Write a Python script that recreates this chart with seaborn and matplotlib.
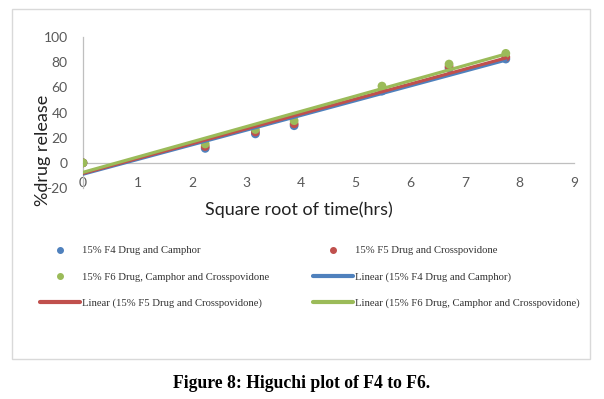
"""
Higuchi plot of F4 to F6 (percent drug release vs square root of time).
"""
import numpy as np
import pandas as pd
import seaborn as sns
import matplotlib.pyplot as plt
from matplotlib.lines import Line2D
from matplotlib.patches import Rectangle

# data
sqrt_time = [0, 2.24, 3.16, 3.87, 5.48, 6.71, 7.75]
f4_release = [0, 11.5, 23, 29.5, 57, 75, 82.5]
f5_release = [0, 13, 24.5, 31, 58, 76.5, 84]
f6_release = [0, 15, 26.5, 33.5, 61, 78.5, 87]

series_names = [
    "15% F4 Drug and Camphor",
    "15% F5 Drug and Crosspovidone",
    "15% F6 Drug, Camphor and Crosspovidone",
]
colors = ["#4F81BD", "#C0504D", "#9BBB59"]
x_ticks = [0, 1, 2, 3, 4, 5, 6, 7, 8, 9]
y_ticks = [-20, 0, 20, 40, 60, 80, 100]

df = pd.concat([
    pd.DataFrame({"x": sqrt_time, "y": vals, "series": name})
    for name, vals in zip(series_names, [f4_release, f5_release, f6_release])
], ignore_index=True)

sns.set_theme(style="white")
plt.rcParams["font.family"] = ["Lato", "DejaVu Sans"]

fig = plt.figure(figsize=(6.04, 3.99), dpi=100)
ax = fig.add_axes([83 / 604, 1 - 188 / 399, (574 - 83) / 604, (188 - 37) / 399])

sns.scatterplot(data=df, x="x", y="y", hue="series", palette=colors,
                s=40, linewidth=0, legend=False, ax=ax, zorder=3)
for name, c in zip(series_names, colors):
    sns.regplot(data=df[df.series == name], x="x", y="y", scatter=False, ci=None,
                truncate=True, color=c, line_kws={"lw": 2.3, "zorder": 4}, ax=ax)

ax.set_xlim(0, 9)
ax.set_ylim(-20, 100)
ax.set_xticks(x_ticks)
ax.set_yticks(y_ticks)
ax.set_yticklabels([str(v) for v in y_ticks])
ax.tick_params(axis="both", length=0, labelsize=10, colors="#595959")
ax.tick_params(axis="x", pad=10)
ax.tick_params(axis="y", pad=11)

for side in ["top", "right"]:
    ax.spines[side].set_visible(False)
ax.spines["bottom"].set_position(("data", 0))
for side in ["left", "bottom"]:
    ax.spines[side].set_color("#BFBFBF")
    ax.spines[side].set_linewidth(0.9)

ax.set_xlabel("")
ax.set_ylabel("")
fig.text(299 / 604, 1 - 210 / 399, "Square root of time(hrs)", ha="center", va="center",
         fontsize=13, color="#222222")
fig.text(43 / 604, 1 - 150 / 399, "%drug release", ha="center", va="center",
         rotation=90, fontsize=13, color="#222222")

# legend, ordered like the Excel legend (row-wise)
pt = lambda c: Line2D([], [], marker="o", ls="none", color=c, markersize=4)
ln = lambda c: Line2D([], [], color=c, lw=3)
handles = [pt(colors[0]), pt(colors[2]), ln(colors[1]),
           pt(colors[1]), ln(colors[0]), ln(colors[2])]
labels = [series_names[0], series_names[2], "Linear (" + series_names[1] + ")",
          series_names[1], "Linear (" + series_names[0] + ")", "Linear (" + series_names[2] + ")"]
fig.legend(handles, labels, ncol=2, loc="upper left", bbox_to_anchor=(40 / 604, 1 - 246 / 399),
           frameon=False, borderpad=0, borderaxespad=0, handlelength=3.75, handletextpad=0.2,
           columnspacing=4.1, labelspacing=1.55,
           prop={"family": "Liberation Serif", "size": 7.7}, labelcolor="#333333")

fig.add_artist(Rectangle((12 / 604, 1 - 359 / 399), 578 / 604, 350 / 399,
                         transform=fig.transFigure, fill=False, ec="#D9D9D9", lw=1))

fig.text(302 / 604, 1 - 384 / 399, "Figure 8: Higuchi plot of F4 to F6.", ha="center",
         va="center", fontsize=12.7, fontweight="bold", family="Liberation Serif", color="black")

fig.savefig("out.png", dpi=100)
